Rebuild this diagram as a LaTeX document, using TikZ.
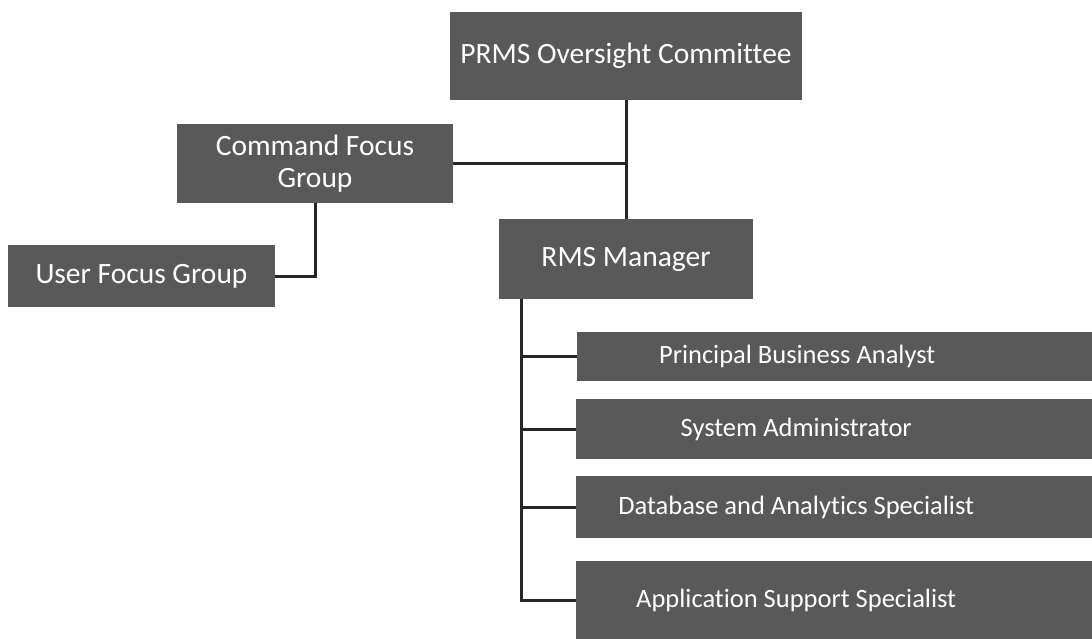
\documentclass[tikz,border=0pt]{standalone}
\usepackage{fontspec}
\setmainfont[Ligatures=NoCommon]{Carlito}
\usetikzlibrary{positioning}
\definecolor{boxgray}{HTML}{595959}
% staff titles sit left of the box middle
\newcommand{\staffname}[1]{\makebox[440pt]{#1}\hspace{76pt}}

\begin{document}
\begin{tikzpicture}[x=1pt, y=-1pt,
  box/.style = {fill=boxgray, text=white, inner sep=0pt, align=center, font=\fontsize{29.5}{32}\selectfont},
  staff/.style = {box, anchor=west, font=\fontsize{26.5}{30}\selectfont},
  link/.style = {draw=black!85, line width=3pt}]
\useasboundingbox (0,0) rectangle (1092,639);
% top and left branch
\node[box, minimum width=352, minimum height=88] (prms) at (626,56) {PRMS Oversight Committee};
\node[box, minimum width=276, minimum height=79] (cfg) at (315,163.5) {Command Focus\\Group};
\node[box, minimum width=267, minimum height=62] (ufg) at (141.5,276) {User Focus Group};
\node[box, minimum width=254, minimum height=80] (rms) at (626,259) {RMS Manager};
% staff under the manager
\node[staff, minimum height=49] (pba) at (577,356.5) {\staffname{Principal Business Analyst}};
\node[staff, minimum height=60] (sa) at (576,429) {\staffname{System Administrator}};
\node[staff, minimum height=62] (das) at (576,507) {\staffname{Database and Analytics Specialist}};
\node[staff, minimum height=78] (ass) at (576,600) {\staffname{Application Support Specialist}};
\coordinate (trunk) at (521,299);
\draw[link] (prms.south) -- (rms.north);
\draw[link] (cfg.east) -- (cfg.east -| prms.south);
\draw[link] (cfg.south) |- (ufg.east);
\foreach \n in {pba,sa,das,ass}
  \draw[link] (trunk) |- (\n.west);
\end{tikzpicture}
\end{document}
